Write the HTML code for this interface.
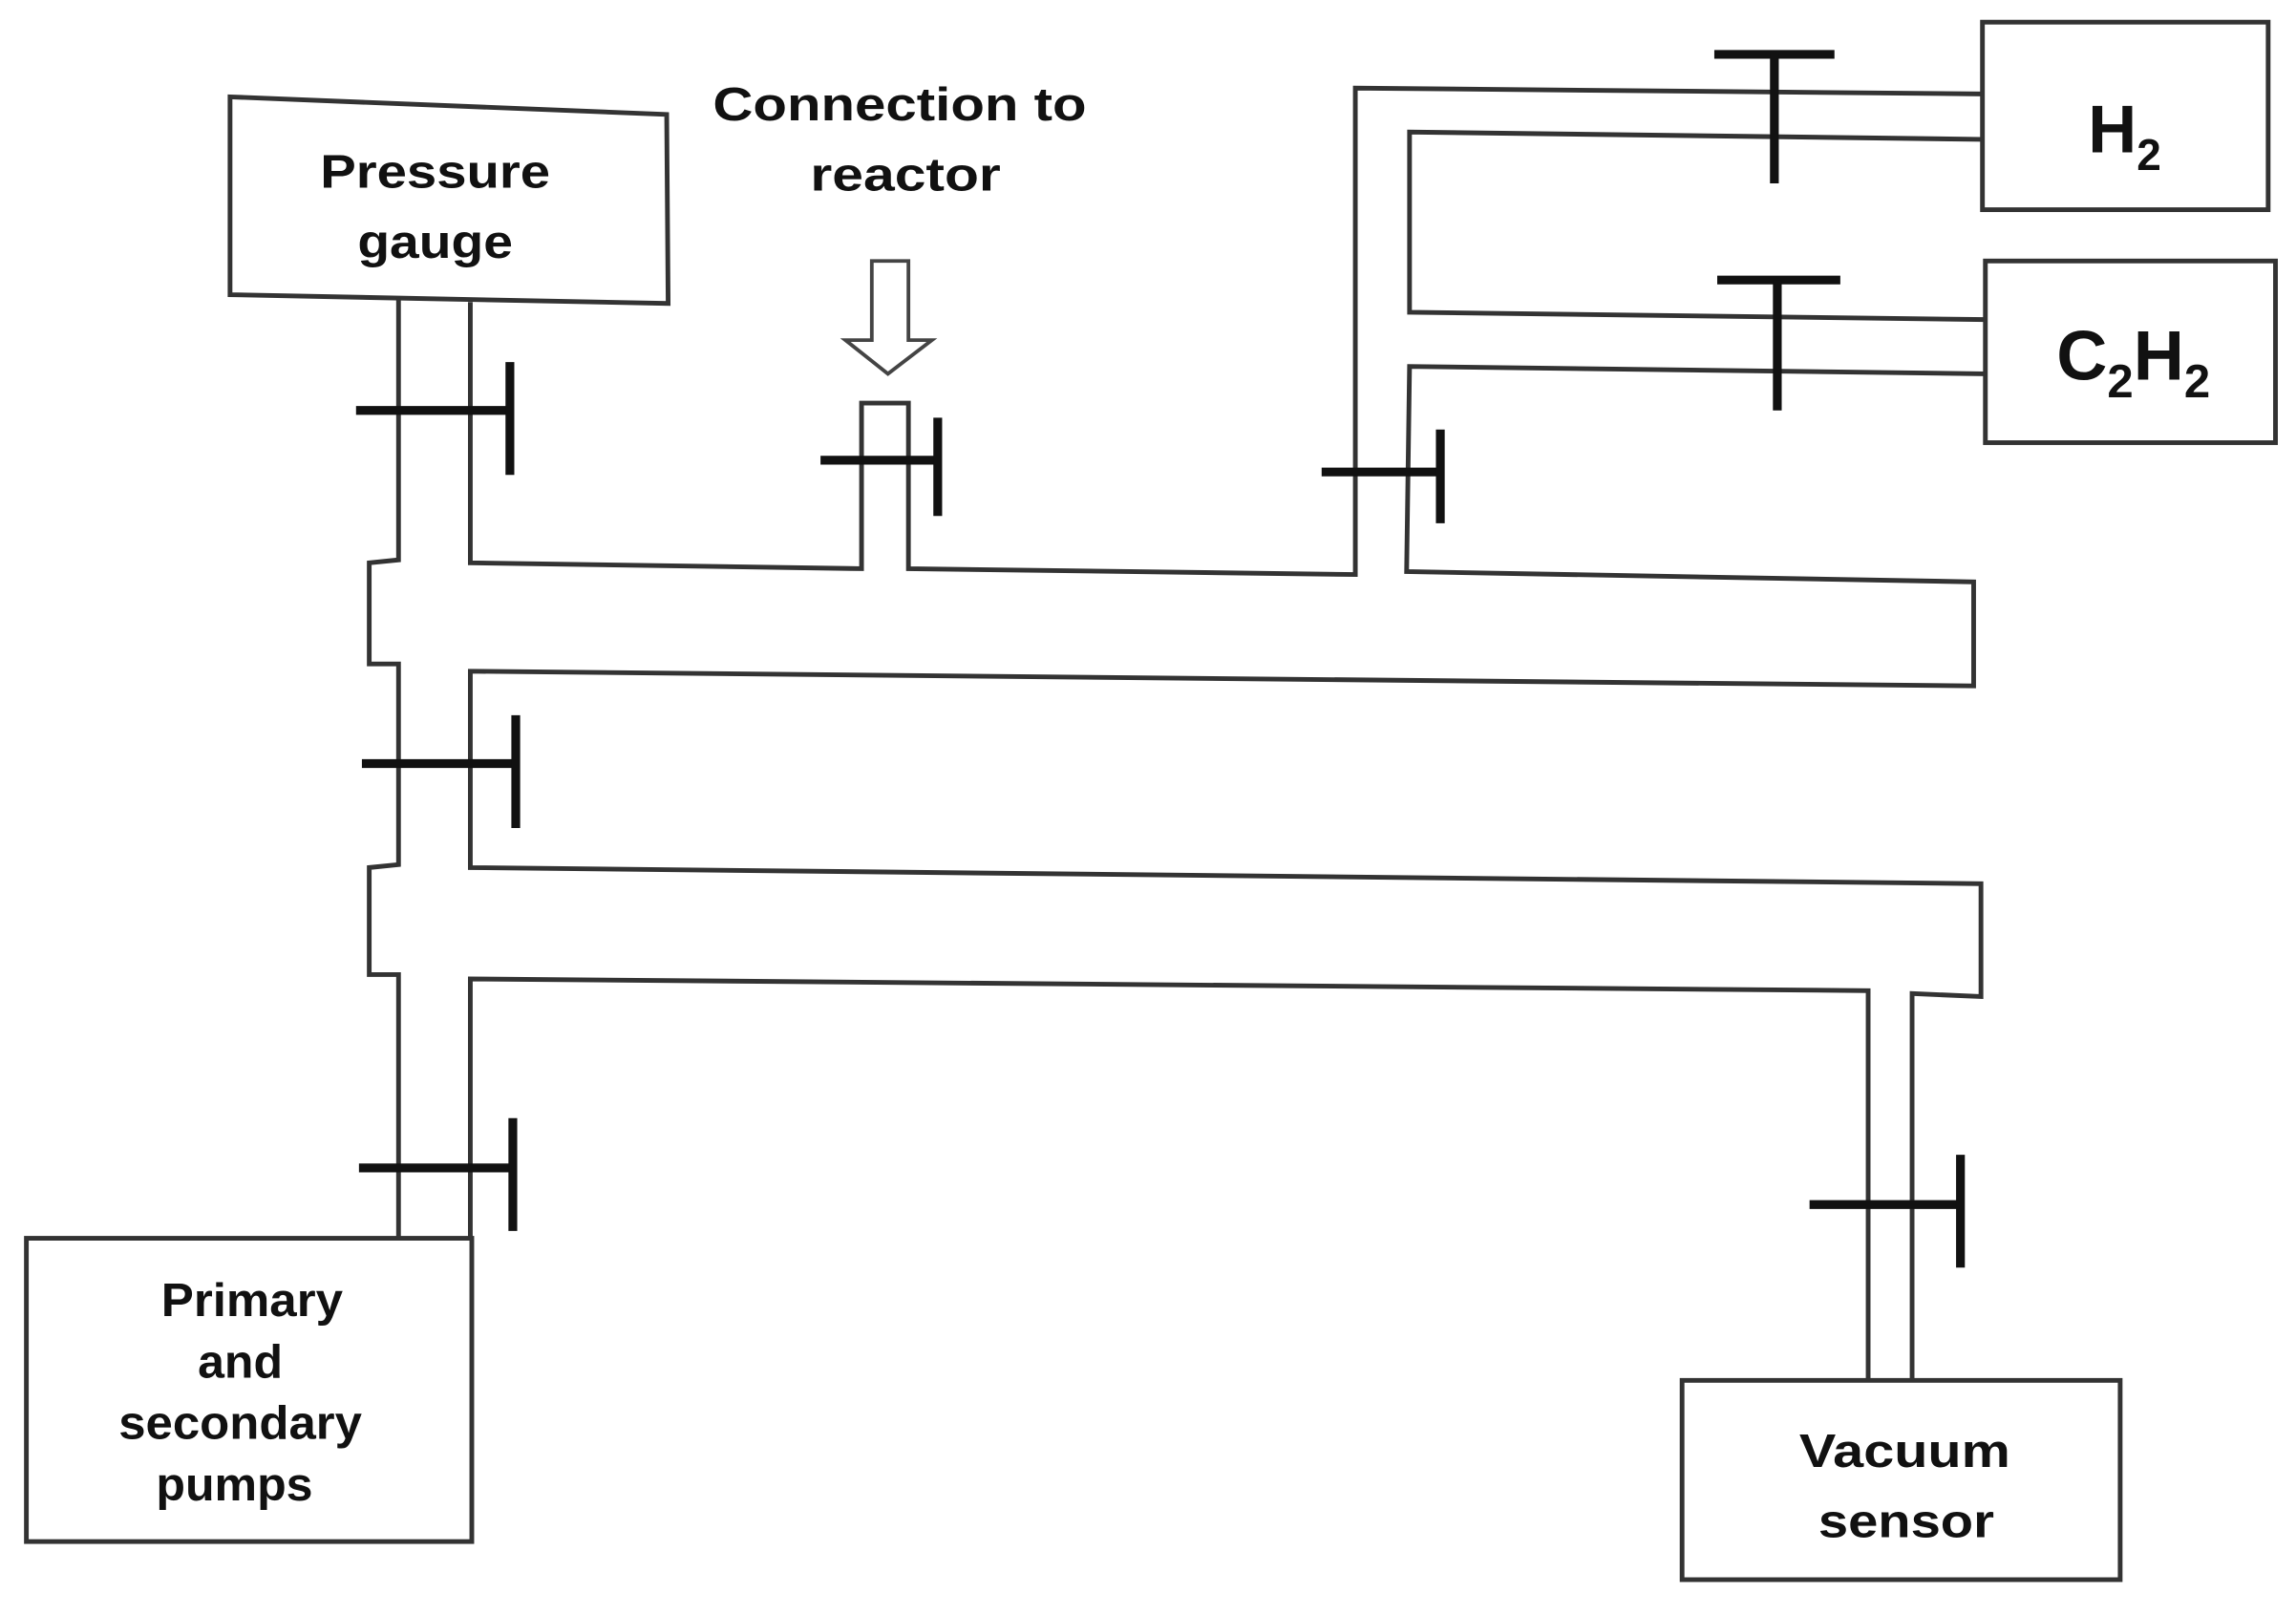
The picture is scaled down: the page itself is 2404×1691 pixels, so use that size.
<!DOCTYPE html>
<html><head><meta charset="utf-8"><style>
html,body{margin:0;padding:0;background:#fff;}
svg{display:block;}
text{font-family:"Liberation Sans",sans-serif;font-weight:bold;fill:#111;text-anchor:middle;}
</style></head><body>
<svg width="2404" height="1691" viewBox="0 0 1567 1102" xmlns="http://www.w3.org/2000/svg">
<g fill="none" stroke="#333" stroke-width="3.2" stroke-linejoin="miter">
<polygon points="157,66 455,78 456,207 157,201"/>
<rect x="18" y="845" width="304" height="207"/>
<rect x="1148" y="942" width="299" height="136"/>
<rect x="1353" y="15" width="195" height="128"/>
<rect x="1355" y="178" width="198" height="124"/>
<polyline points="272,203 272,382 252,384 252,453 272,453 272,590 252,592 252,665 272,665 272,845"/>
<polyline points="321,206 321,384 588,388 588,275 620,275 620,388 925,392 925,60 1353,64"/>
<polyline points="1353,95 962,90 962,213 1355,218"/>
<polyline points="1355,255 962,250 960,390 1347,397 1347,468 321,458 321,592 1352,603 1352,680 1305,678 1305,942"/>
<polyline points="1275,942 1275,676 321,668 321,845"/>
</g>
<g stroke="#111" stroke-width="6" stroke-linecap="butt">
<line x1="243" y1="280" x2="348" y2="280"/><line x1="348" y1="247" x2="348" y2="324"/>
<line x1="247" y1="521" x2="352" y2="521"/><line x1="352" y1="488" x2="352" y2="565"/>
<line x1="245" y1="797" x2="350" y2="797"/><line x1="350" y1="763" x2="350" y2="840"/>
<line x1="560" y1="314" x2="640" y2="314"/><line x1="640" y1="285" x2="640" y2="352"/>
<line x1="902" y1="322" x2="983" y2="322"/><line x1="983" y1="293" x2="983" y2="357"/>
<line x1="1170" y1="37" x2="1252" y2="37"/><line x1="1211" y1="37" x2="1211" y2="125"/>
<line x1="1172" y1="191" x2="1256" y2="191"/><line x1="1213" y1="191" x2="1213" y2="280"/>
<line x1="1235" y1="822" x2="1338" y2="822"/><line x1="1338" y1="788" x2="1338" y2="865"/>
</g>
<polygon points="595,178 620,178 620,232 636,232 606,255 577,232 595,232" fill="#fff" stroke="#444" stroke-width="2.5"/>
<g font-size="32" lengthAdjust="spacingAndGlyphs">
<text x="297" y="128" textLength="157" lengthAdjust="spacingAndGlyphs">Pressure</text>
<text x="297" y="176" textLength="106" lengthAdjust="spacingAndGlyphs">gauge</text>
<text x="614" y="82" textLength="255" lengthAdjust="spacingAndGlyphs">Connection to</text>
<text x="618" y="130" textLength="130" lengthAdjust="spacingAndGlyphs">reactor</text>
<text x="172" y="898" textLength="124" lengthAdjust="spacingAndGlyphs">Primary</text>
<text x="164" y="940" textLength="58" lengthAdjust="spacingAndGlyphs">and</text>
<text x="164" y="982" textLength="166" lengthAdjust="spacingAndGlyphs">secondary</text>
<text x="160" y="1024" textLength="107" lengthAdjust="spacingAndGlyphs">pumps</text>
<text x="1300" y="1001" textLength="144" lengthAdjust="spacingAndGlyphs">Vacuum</text>
<text x="1301" y="1049" textLength="120" lengthAdjust="spacingAndGlyphs">sensor</text>
</g>
<text x="1450" y="104" font-size="46">H<tspan font-size="30" dy="12">2</tspan></text>
<text x="1456" y="259" font-size="48">C<tspan font-size="32" dy="12">2</tspan><tspan dy="-12">H</tspan><tspan font-size="32" dy="12">2</tspan></text>
</svg>
</body></html>
